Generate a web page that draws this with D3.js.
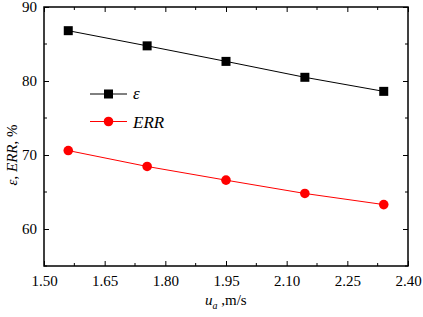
<!DOCTYPE html>
<html>
<head>
<meta charset="utf-8">
<script src="https://cdn.jsdelivr.net/npm/d3@7"></script>
<style>
  body { margin: 0; background: #fff; }
  svg { display: block; }
</style>
</head>
<body>
<div id="chart"></div>
<script>
// values
const speeds = [1.56, 1.755, 1.95, 2.145, 2.34];
const eps = [86.8, 84.75, 82.65, 80.5, 78.6];
const errs = [70.6, 68.45, 66.6, 64.8, 63.3];
const xTicks = [1.50, 1.65, 1.80, 1.95, 2.10, 2.25, 2.40];
const yTicks = [60, 70, 80, 90];

const width = 423;
const height = 317;
const margin = {top: 7, right: 15, bottom: 51, left: 44};
const serif = 'Liberation Serif';

const x = d3.scaleLinear()
    .domain([1.5, 2.4])
    .range([margin.left, width - margin.right]);
const y = d3.scaleLinear()
    .domain([55, 90])
    .range([height - margin.bottom, margin.top]);

const svg = d3.select('#chart').append('svg')
    .attr('width', width)
    .attr('height', height)
    .attr('font-family', serif);

// minor tick positions (half steps)
const xMinor = d3.range(0, 13).map(i => 1.5 + i * 0.075);
const yMinor = [55, 65, 75, 85];

// AXES: all ticks point inward, mirrored on top/right
const xb = g => g
    .attr('transform', `translate(0,${y(55)})`)
    .call(d3.axisBottom(x).tickValues(xTicks).tickSizeInner(-5).tickSizeOuter(0)
        .tickPadding(9).tickFormat(d3.format('.2f')))
    .attr('font-family', serif)
    .call(g => g.select('.domain').remove())
    .call(g => g.selectAll('.tick text').attr('font-size', '15px').attr('fill', '#000'));

const yl = g => g
    .attr('transform', `translate(${x(1.5)},0)`)
    .call(d3.axisLeft(y).tickValues(yTicks).tickSizeInner(-5).tickSizeOuter(0).tickPadding(7))
    .attr('font-family', serif)
    .call(g => g.select('.domain').remove())
    .call(g => g.selectAll('.tick text').attr('font-size', '15px').attr('fill', '#000'));

svg.append('g').call(xb);
svg.append('g').call(yl);

// top + right major ticks
svg.append('g')
    .attr('transform', `translate(0,${y(90)})`)
    .call(d3.axisTop(x).tickValues(xTicks).tickSizeInner(-5).tickSizeOuter(0).tickFormat(''))
    .call(g => g.select('.domain').remove());
svg.append('g')
    .attr('transform', `translate(${x(2.4)},0)`)
    .call(d3.axisRight(y).tickValues(yTicks).tickSizeInner(-5).tickSizeOuter(0).tickFormat(''))
    .call(g => g.select('.domain').remove());

// minor ticks
const minor = svg.append('g').attr('stroke', '#000').attr('stroke-width', 1);
minor.selectAll('.xm')
    .data(xMinor.filter((d, i) => i % 2 == 1))
    .join('g')
    .each(function(d) {
        const g = d3.select(this);
        g.append('line').attr('x1', x(d)).attr('x2', x(d)).attr('y1', y(55)).attr('y2', y(55) - 3);
        g.append('line').attr('x1', x(d)).attr('x2', x(d)).attr('y1', y(90)).attr('y2', y(90) + 3);
    });
minor.selectAll('.ym')
    .data(yMinor)
    .join('g')
    .each(function(d) {
        const g = d3.select(this);
        g.append('line').attr('x1', x(1.5)).attr('x2', x(1.5) + 3).attr('y1', y(d)).attr('y2', y(d));
        g.append('line').attr('x1', x(2.4)).attr('x2', x(2.4) - 3).attr('y1', y(d)).attr('y2', y(d));
    });

svg.selectAll('.tick line').attr('stroke', '#000');

// frame
svg.append('rect')
    .attr('x', x(1.5))
    .attr('y', y(90))
    .attr('width', x(2.4) - x(1.5))
    .attr('height', y(55) - y(90))
    .attr('fill', 'none')
    .attr('stroke', '#000')
    .attr('stroke-width', 1.5);

// SERIES
const line = d3.line().x((d, i) => x(speeds[i])).y(d => y(d));

svg.append('path')
    .datum(eps)
    .attr('d', line)
    .attr('fill', 'none')
    .attr('stroke', '#000')
    .attr('stroke-width', 1);
svg.append('g')
    .selectAll('rect')
    .data(eps)
    .join('rect')
        .attr('x', (d, i) => x(speeds[i]) - 4.5)
        .attr('y', d => y(d) - 4.5)
        .attr('width', 9)
        .attr('height', 9)
        .attr('fill', '#000');

svg.append('path')
    .datum(errs)
    .attr('d', line)
    .attr('fill', 'none')
    .attr('stroke', '#ff0000')
    .attr('stroke-width', 1);
svg.append('g')
    .selectAll('circle')
    .data(errs)
    .join('circle')
        .attr('cx', (d, i) => x(speeds[i]))
        .attr('cy', d => y(d))
        .attr('r', 4.8)
        .attr('fill', '#ff0000');

// legend
const legend = svg.append('g').attr('transform', 'translate(90,94)');
legend.append('line').attr('x1', 0).attr('x2', 37).attr('y1', 0).attr('y2', 0)
    .attr('stroke', '#000');
legend.append('rect').attr('x', 14).attr('y', -4.5).attr('width', 9).attr('height', 9)
    .attr('fill', '#000');
legend.append('text').attr('x', 43).attr('y', 5).attr('font-size', '17px')
    .attr('font-style', 'italic').text('ε');
legend.append('line').attr('x1', 0).attr('x2', 37).attr('y1', 27.5).attr('y2', 27.5)
    .attr('stroke', '#ff0000');
legend.append('circle').attr('cx', 18.5).attr('cy', 27.5).attr('r', 4.8)
    .attr('fill', '#ff0000');
legend.append('text').attr('x', 43).attr('y', 33.5).attr('font-size', '17px')
    .attr('font-style', 'italic').text('ERR');

// axis titles
const yt = svg.append('text')
    .attr('transform', 'translate(17,155) rotate(-90)')
    .attr('text-anchor', 'middle')
    .attr('font-size', '15px');
yt.append('tspan').attr('font-style', 'italic').text('ε');
yt.append('tspan').text(', ');
yt.append('tspan').attr('font-style', 'italic').text('ERR');
yt.append('tspan').text(', %');

const xt = svg.append('text')
    .attr('x', 205)
    .attr('y', 305)
    .attr('font-size', '15px');
xt.append('tspan').attr('font-style', 'italic').text('u');
xt.append('tspan').attr('font-style', 'italic').attr('font-size', '10px').attr('dy', 4).text('a');
xt.append('tspan').attr('dy', -4).text(' ,m/s');
</script>
</body>
</html>
